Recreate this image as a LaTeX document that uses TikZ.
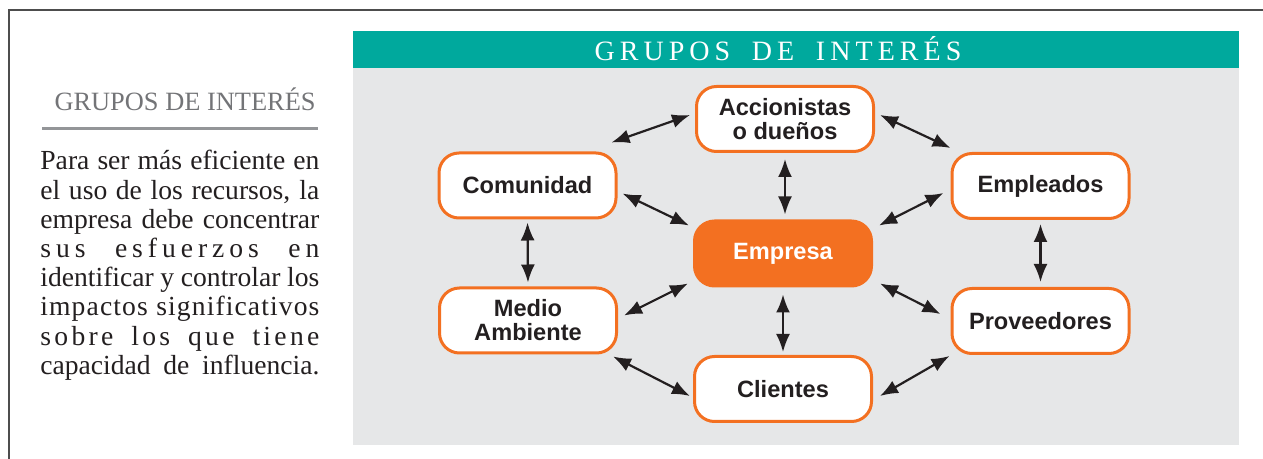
\documentclass[tikz,border=0pt]{standalone}
\usepackage{fontspec}
\setmainfont{Liberation Serif}
\setsansfont{Liberation Sans}
\newfontfamily\cabfont[LetterSpace=18,WordSpace=1.8]{Liberation Serif}
\usetikzlibrary{calc,arrows.meta}

\definecolor{naranja}{RGB}{243,112,33}
\definecolor{bandteal}{RGB}{0,169,157}
\definecolor{panelgris}{RGB}{230,231,232}
\definecolor{titgris}{RGB}{115,116,119}
\definecolor{reglagris}{RGB}{147,149,152}
\definecolor{marco}{RGB}{77,77,77}
\definecolor{tinta}{RGB}{35,31,32}

\tikzset{punta/.tip={Latex[length=9pt,width=7pt]}}

\begin{document}
\begin{tikzpicture}[x=0.5pt,y=-0.5pt,
    grupo/.style={draw=naranja,line width=1.5pt,fill=white,rounded corners=10pt,
      minimum width=88.5pt,minimum height=32.5pt,align=center,text=tinta,
      font=\sffamily\bfseries\fontsize{11.8}{12}\selectfont},
    centro/.style={grupo,fill=naranja,text=white},
    flecha/.style={punta-punta,line width=1.1pt,tinta}]
  \useasboundingbox (0,0) rectangle (1263,459);
  \draw[line width=1pt,marco] (9,459) -- (9,10) -- (1263,10);
  % panel
  \fill[panelgris] (353,68) rectangle (1239,445);
  \fill[bandteal] (353,31) rectangle (1239,68);
  \node[text=white,font=\cabfont\fontsize{14}{16}\selectfont] (cab) at (778,49) {GRUPOS DE INTERÉS};
  % texto lateral
  \node[anchor=base east,text=titgris,font=\fontsize{13.2}{15}\selectfont,inner sep=0pt] (titulo) at (316,111) {GRUPOS DE INTERÉS};
  \draw[line width=1.5pt,reglagris] (42,129) -- (318,129);
  \node[anchor=north west,text width=139.5pt,align=justify,inner sep=0pt,text=tinta,
    font=\fontsize{13.8}{14.6}\selectfont] (texto) at (40,150)
    {{\parfillskip=0pt Para ser más eficiente en\linebreak
     el uso de los recursos, la\linebreak
     empresa debe concentrar\linebreak
     {\addfontfeature{LetterSpace=18}sus esfuerzos en}\linebreak
     identificar y controlar los\linebreak
     {\addfontfeature{LetterSpace=4}impactos significativos}\linebreak
     {\addfontfeature{LetterSpace=12}sobre los que tiene}\linebreak
     capacidad de influencia.\par}};
  % grupos
  \node[grupo] (acc) at (785,119) {Accionistas\\o dueños};
  \node[grupo] (com) at (527.5,185.5) {Comunidad};
  \node[grupo] (empl) at (1040.5,186) {Empleados};
  \node[centro] (emp) at (783,253.5) {Empresa};
  \node[grupo] (med) at (528,320.5) {Medio\\Ambiente};
  \node[grupo] (prov) at (1040.5,321) {Proveedores};
  \node[grupo] (cli) at (783,389) {Clientes};
  % flechas
  \draw[flecha] ($(com.north east)+(-6,-9)$) -- ($(acc.west)+(-5,-4)$);
  \draw[flecha] ($(acc.east)+(5,-4)$) -- ($(empl.north west)+(0,-4)$);
  \draw[flecha] ($(com.east)+(5,8)$) -- ($(emp.north west)+(-4,6)$);
  \draw[flecha] ($(empl.west)+(-7,7)$) -- ($(emp.north east)+(6,6)$);
  \draw[flecha] ($(med.east)+(6,-5)$) -- ($(emp.south west)+(-5,-4)$);
  \draw[flecha] ($(prov.west)+(-10,-7)$) -- ($(emp.south east)+(7,-4)$);
  \draw[flecha] ($(med.south east)+(-5,2)$) -- ($(cli.west)+(-3,7)$);
  \draw[flecha] ($(prov.south west)+(-1,1)$) -- ($(cli.east)+(7,7)$);
  \draw[flecha,shorten <=3pt,shorten >=2.5pt] (acc.south) -- (acc.south |- emp.north);
  \draw[flecha,shorten <=3.5pt,shorten >=1.5pt] (emp.south) -- (emp.south |- cli.north);
  \draw[flecha,shorten <=1.5pt,shorten >=2pt] (com.south) -- (med.north);
  \draw[flecha,shorten <=2pt,shorten >=2.5pt] (empl.south) -- (prov.north);
\end{tikzpicture}
\end{document}
